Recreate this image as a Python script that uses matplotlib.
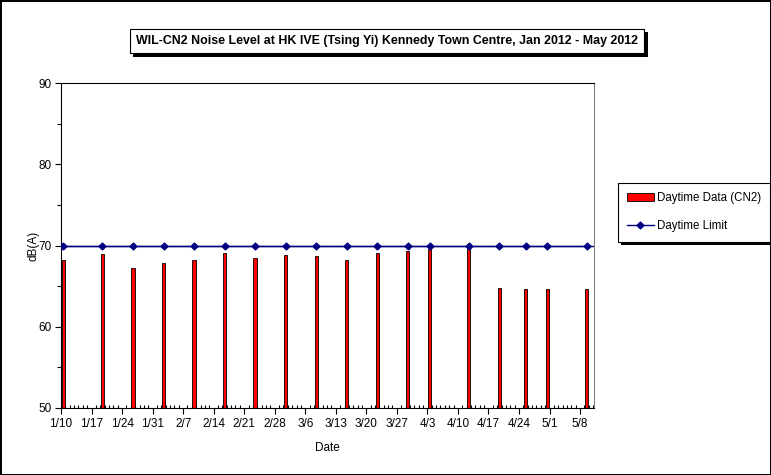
import datetime as dt
import matplotlib
matplotlib.use("Agg")
import matplotlib.pyplot as plt
import matplotlib.dates as mdates
import matplotlib.patheffects as pe
from matplotlib.ticker import FuncFormatter, MultipleLocator

plt.rcParams['font.family'] = ['Liberation Sans', 'DejaVu Sans']

# measurement dates (2012) and daytime noise levels
dates = ["2012-01-10", "2012-01-19", "2012-01-26", "2012-02-02", "2012-02-09",
         "2012-02-16", "2012-02-23", "2012-03-01", "2012-03-08", "2012-03-15",
         "2012-03-22", "2012-03-29", "2012-04-03", "2012-04-12", "2012-04-19",
         "2012-04-25", "2012-04-30", "2012-05-09"]
daytime = [68.2, 69.0, 67.2, 67.8, 68.2, 69.1, 68.5, 68.8, 68.7, 68.2,
           69.1, 69.3, 69.6, 69.65, 64.8, 64.65, 64.65, 64.65]
limit = [70] * len(dates)

x = [dt.datetime.strptime(d, "%Y-%m-%d") + dt.timedelta(hours=12) for d in dates]

fig = plt.figure(figsize=(7.71, 4.75), dpi=100)
fig.patch.set_edgecolor('black')
fig.patch.set_linewidth(2)
ax = fig.add_axes([61 / 771, 1 - 408 / 475, 532.5 / 771, 325 / 475])

bars = ax.bar(x, daytime, width=0.75, color='#ff0000', edgecolor='black',
              linewidth=0.6, label='Daytime Data (CN2)', zorder=2)
ax.axhline(70, color='#000080', lw=1, zorder=3)
line, = ax.plot(x, limit, color='#000080', lw=1, marker='D', ms=3.5,
                label='Daytime Limit', zorder=4)

ax.set_ylim(50, 90)
ax.set_xlim(dt.datetime(2012, 1, 10), dt.datetime(2012, 5, 11, 2))
ax.yaxis.set_major_locator(MultipleLocator(10))
ax.yaxis.set_minor_locator(MultipleLocator(5))
ax.xaxis.set_major_locator(mdates.WeekdayLocator(byweekday=mdates.TU))
ax.xaxis.set_minor_locator(mdates.DayLocator())
ax.xaxis.set_major_formatter(FuncFormatter(
    lambda v, p: f"{mdates.num2date(v).month}/{mdates.num2date(v).day}"))

ax.tick_params(axis='both', which='major', direction='out', length=4,
               width=0.8, labelsize=8.5, pad=3)
ax.tick_params(axis='y', which='minor', direction='out', length=3, width=0.8)
ax.tick_params(axis='x', which='minor', direction='in', length=2.5, width=0.8)
for s in ax.spines.values():
    s.set_linewidth(0.8)
ax.spines['right'].set_color('#808080')

ax.set_ylabel('dB(A)', fontsize=8.5, labelpad=-1)
ax.set_xlabel('Date', fontsize=8.5, labelpad=9)

t = fig.text(387 / 771, 1 - 41 / 475,
             'WIL-CN2 Noise Level at HK IVE (Tsing Yi) Kennedy Town Centre, Jan 2012 - May 2012',
             ha='center', va='center', fontsize=8.9, fontweight='bold',
             bbox=dict(boxstyle='square,pad=0.5', fc='white', ec='black', lw=0.8))
t.get_bbox_patch().set_path_effects([
    pe.SimplePatchShadow(offset=(2.5, -2.5), shadow_rgbFace='black', alpha=1),
    pe.Normal()])

leg = fig.legend(handles=[bars, line], loc='upper left',
                 bbox_to_anchor=(618 / 771, 1 - 183 / 475),
                 fontsize=8.3, frameon=True, fancybox=False, edgecolor='black',
                 framealpha=1, handlelength=2.3, handleheight=0.7, borderpad=0.8,
                 labelspacing=1.4, handletextpad=0.25, borderaxespad=0)
leg.get_frame().set_linewidth(0.8)
leg.get_frame().set_path_effects([
    pe.SimplePatchShadow(offset=(2.5, -2.5), shadow_rgbFace='black', alpha=1),
    pe.Normal()])

fig.savefig('out.png', dpi=100)
